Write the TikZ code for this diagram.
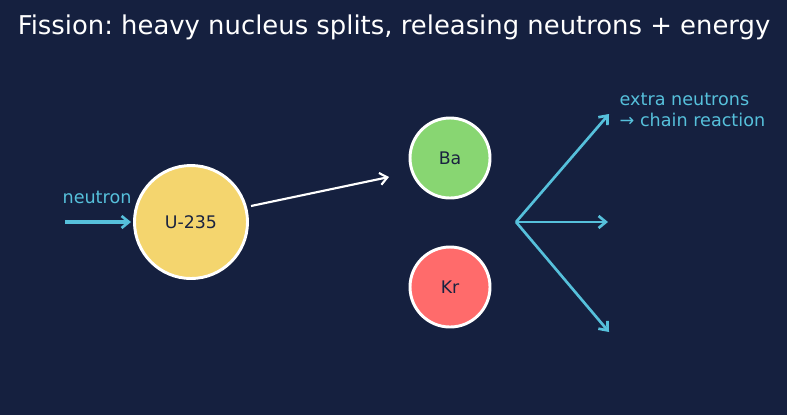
\documentclass[tikz,border=0pt]{standalone}
\usepackage{fontspec}
\setmainfont{DejaVu Sans}
\frenchspacing
\usetikzlibrary{arrows.meta}
\definecolor{bg}{HTML}{15203F}
\definecolor{uyel}{HTML}{F4D56E}
\definecolor{bagreen}{HTML}{88D672}
\definecolor{krred}{HTML}{FF6B6B}
\definecolor{cyanc}{HTML}{56C0DB}
\definecolor{darktext}{HTML}{1A2340}
\begin{document}
\begin{tikzpicture}[x=0.75pt,y=-0.75pt,
  nucleus/.style={circle,draw=white,line width=2.2pt,inner sep=0pt,text=darktext,font=\fontsize{13}{15}\selectfont},
  cyanarrow/.style={draw=cyanc,line width=2pt,-{Straight Barb[length=5.5pt,width=9pt,line width=2pt]}},
  whitearrow/.style={draw=white,line width=1.6pt,-{Straight Barb[length=5.5pt,width=9pt,line width=1.6pt]}},
  lbl/.style={text=cyanc,font=\fontsize{13.2}{15.75}\selectfont}]
\fill[bg] (0,0) rectangle (787,415);
\useasboundingbox (0,0) rectangle (787,415);
\node[text=white,font=\fontsize{19.4}{23}\selectfont] (title) at (394,27) {Fission: heavy nucleus splits, releasing neutrons + energy};
\node[nucleus,fill=uyel,minimum size=113*0.75pt] (u) at (191,222) {U-235};
\node[nucleus,fill=bagreen,minimum size=80*0.75pt] (ba) at (450,158) {Ba};
\node[nucleus,fill=krred,minimum size=80*0.75pt] (kr) at (450,287) {Kr};
\node[lbl] (nlab) at (97,197) {neutron};
\coordinate (nstart) at (65,222);
\coordinate (nend) at (131,222);
\draw[cyanarrow,line width=2.4pt] (nstart) -- (nend);
\coordinate (ws) at (251,206);
\coordinate (we) at (389,177);
\draw[whitearrow] (ws) -- (we);
\coordinate (o) at (516,222);
\coordinate (e1) at (609,114);
\coordinate (e2) at (608,222);
\coordinate (e3) at (609,332);
\draw[cyanarrow] (o) -- (e1);
\draw[cyanarrow] (o) -- (e2);
\draw[cyanarrow] (o) -- (e3);
\node[lbl,anchor=west,align=left] (extra) at (615,110) {extra neutrons\\→ chain reaction};
\end{tikzpicture}
\end{document}
